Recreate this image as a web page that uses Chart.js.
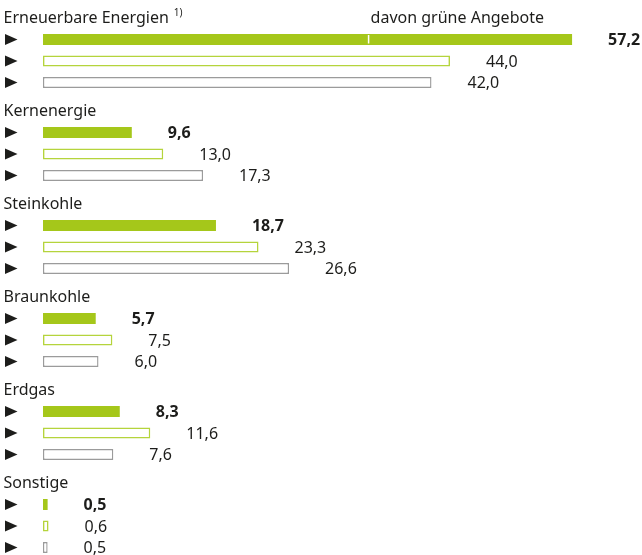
<!DOCTYPE html>
<html>
<head>
<meta charset="utf-8">
<script src="https://cdn.jsdelivr.net/npm/chart.js@4/dist/chart.umd.min.js"></script>
<style>
  html, body { margin: 0; padding: 0; background: #ffffff; }
  #wrap { width: 642px; height: 555px; }
</style>
</head>
<body>
<div id="wrap"><canvas id="c" width="642" height="555"></canvas></div>
<script>
// ---- data ----
const categories = ['Erneuerbare Energien', 'Kernenergie', 'Steinkohle', 'Braunkohle', 'Erdgas', 'Sonstige'];
const seriesGreenFilled = [57.2, 9.6, 18.7, 5.7, 8.3, 0.5];
const seriesGreenOutline = [44.0, 13.0, 23.3, 7.5, 11.6, 0.6];
const seriesGrayOutline = [42.0, 17.3, 26.6, 6.0, 7.6, 0.5];
const footnoteMarks = ['1)', '', '', '', '', ''];
const greenOfferValue = [35.2];          // position of the "davon grüne Angebote" split in the first bar
const greenOfferLabel = 'davon grüne Angebote';

const fmt = v => v.toFixed(1).replace('.', ',');

const FONT = '"Noto Sans", Roboto, sans-serif';
const TEXT = '#1d1d1b';
const GREEN = '#a5c71a';
const GREEN_LIGHT = '#b5d43c';
const GRAY = '#9b9b9b';

const overlay = {
  id: 'overlay',
  afterDatasetsDraw(chart) {
    const ctx = chart.ctx;
    const y = chart.scales.y, x = chart.scales.x;
    ctx.save();
    ctx.fillStyle = TEXT;
    // category titles
    categories.forEach((cat, i) => {
      const cy = y.getPixelForValue(i) - 43;
      ctx.font = '16px ' + FONT;
      ctx.textBaseline = 'middle';
      ctx.textAlign = 'left';
      ctx.fillText(cat, 3.5, cy);
      if (footnoteMarks[i]) {
        const w = ctx.measureText(cat).width;
        ctx.font = '10px ' + FONT;
        ctx.fillText(footnoteMarks[i], 3.5 + w + 5, cy - 5);
      }
    });
    // triangles and value labels
    chart.data.datasets.forEach((ds, di) => {
      const meta = chart.getDatasetMeta(di);
      meta.data.forEach((el, i) => {
        const by = el.y;
        ctx.fillStyle = TEXT;
        ctx.beginPath();
        ctx.moveTo(5, by - 5.5);
        ctx.lineTo(17.5, by);
        ctx.lineTo(5, by + 5.5);
        ctx.closePath();
        ctx.fill();
        ctx.font = (di === 0 ? 'bold ' : '') + '16px ' + FONT;
        ctx.textBaseline = 'middle';
        ctx.textAlign = 'left';
        ctx.fillText(fmt(ds.data[i]), el.x + 36, by + 1);
      });
    });
    // green offers split mark
    const el0 = chart.getDatasetMeta(0).data[0];
    const mx = x.getPixelForValue(greenOfferValue[0]);
    ctx.strokeStyle = '#ffffff';
    ctx.lineWidth = 1.5;
    ctx.beginPath();
    ctx.moveTo(mx, el0.y - el0.height / 2 + 1);
    ctx.lineTo(mx, el0.y + el0.height / 2 - 1.5);
    ctx.stroke();
    ctx.fillStyle = TEXT;
    ctx.font = '16px ' + FONT;
    ctx.textBaseline = 'middle';
    ctx.fillText(greenOfferLabel, mx + 2, y.getPixelForValue(0) - 43);
    ctx.restore();
  }
};

new Chart(document.getElementById('c'), {
  type: 'bar',
  data: {
    labels: categories,
    datasets: [
      { data: seriesGreenFilled, backgroundColor: GREEN, borderWidth: 0, clip: false },
      { data: seriesGreenOutline, backgroundColor: '#ffffff', borderColor: GREEN_LIGHT, borderWidth: 1.6, borderSkipped: false, clip: false },
      { data: seriesGrayOutline, backgroundColor: '#ffffff', borderColor: GRAY, borderWidth: 1.4, borderSkipped: false, clip: false }
    ]
  },
  options: {
    indexAxis: 'y',
    responsive: false,
    animation: false,
    devicePixelRatio: 1,
    categoryPercentage: 0.6935,
    barPercentage: 0.512,
    layout: { padding: { left: 43, right: 0, top: 61, bottom: 29 } },
    scales: {
      x: { type: 'linear', min: 0, max: 64.76, display: false },
      y: { type: 'category', offset: false, display: false }
    },
    plugins: { legend: { display: false }, tooltip: { enabled: false } }
  },
  plugins: [overlay]
});
</script>
</body>
</html>
